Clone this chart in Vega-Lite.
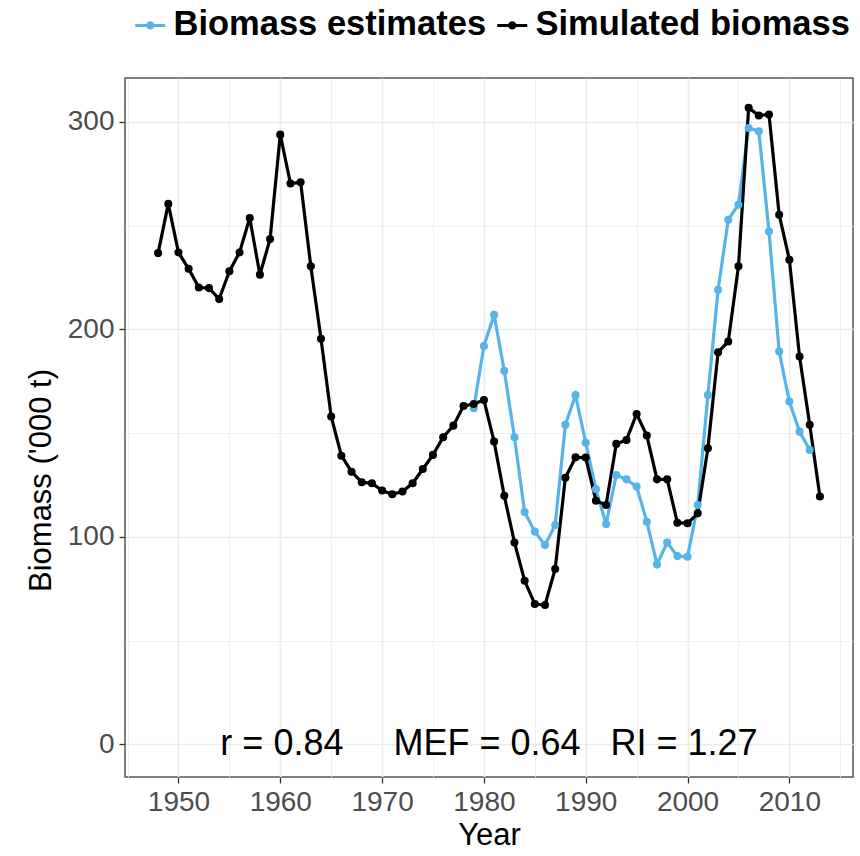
{
  "$schema": "https://vega.github.io/schema/vega-lite/v6.json",
  "width": 728,
  "height": 699,
  "autosize": "none",
  "padding": {"left": 125, "top": 78, "right": 7, "bottom": 79},
  "background": "white",
  "config": {
    "font": "Liberation Sans",
    "view": {"stroke": "#555555", "strokeWidth": 1.5}
  },
  "datasets": {
    "series": [
      {"year": 1979, "series": "Biomass estimates", "biomass": 162},
      {"year": 1980, "series": "Biomass estimates", "biomass": 192},
      {"year": 1981, "series": "Biomass estimates", "biomass": 207},
      {"year": 1982, "series": "Biomass estimates", "biomass": 180},
      {"year": 1983, "series": "Biomass estimates", "biomass": 148},
      {"year": 1984, "series": "Biomass estimates", "biomass": 112},
      {"year": 1985, "series": "Biomass estimates", "biomass": 102.5},
      {"year": 1986, "series": "Biomass estimates", "biomass": 96},
      {"year": 1987, "series": "Biomass estimates", "biomass": 105.7},
      {"year": 1988, "series": "Biomass estimates", "biomass": 154},
      {"year": 1989, "series": "Biomass estimates", "biomass": 168.3},
      {"year": 1990, "series": "Biomass estimates", "biomass": 145.3},
      {"year": 1991, "series": "Biomass estimates", "biomass": 122.9},
      {"year": 1992, "series": "Biomass estimates", "biomass": 106.2},
      {"year": 1993, "series": "Biomass estimates", "biomass": 129.8},
      {"year": 1994, "series": "Biomass estimates", "biomass": 127.7},
      {"year": 1995, "series": "Biomass estimates", "biomass": 124.2},
      {"year": 1996, "series": "Biomass estimates", "biomass": 107.3},
      {"year": 1997, "series": "Biomass estimates", "biomass": 86.7},
      {"year": 1998, "series": "Biomass estimates", "biomass": 97.2},
      {"year": 1999, "series": "Biomass estimates", "biomass": 90.7},
      {"year": 2000, "series": "Biomass estimates", "biomass": 90.4},
      {"year": 2001, "series": "Biomass estimates", "biomass": 115.3},
      {"year": 2002, "series": "Biomass estimates", "biomass": 168.4},
      {"year": 2003, "series": "Biomass estimates", "biomass": 219.1},
      {"year": 2004, "series": "Biomass estimates", "biomass": 252.9},
      {"year": 2005, "series": "Biomass estimates", "biomass": 260.1},
      {"year": 2006, "series": "Biomass estimates", "biomass": 297.1},
      {"year": 2007, "series": "Biomass estimates", "biomass": 295.5},
      {"year": 2008, "series": "Biomass estimates", "biomass": 247.2},
      {"year": 2009, "series": "Biomass estimates", "biomass": 189.3},
      {"year": 2010, "series": "Biomass estimates", "biomass": 165.2},
      {"year": 2011, "series": "Biomass estimates", "biomass": 150.7},
      {"year": 2012, "series": "Biomass estimates", "biomass": 141.9},
      {"year": 1948, "series": "Simulated biomass", "biomass": 236.8},
      {"year": 1949, "series": "Simulated biomass", "biomass": 260.5},
      {"year": 1950, "series": "Simulated biomass", "biomass": 237.1},
      {"year": 1951, "series": "Simulated biomass", "biomass": 229.2},
      {"year": 1952, "series": "Simulated biomass", "biomass": 220.2},
      {"year": 1953, "series": "Simulated biomass", "biomass": 219.9},
      {"year": 1954, "series": "Simulated biomass", "biomass": 214.6},
      {"year": 1955, "series": "Simulated biomass", "biomass": 228},
      {"year": 1956, "series": "Simulated biomass", "biomass": 237.1},
      {"year": 1957, "series": "Simulated biomass", "biomass": 253.7},
      {"year": 1958, "series": "Simulated biomass", "biomass": 226.4},
      {"year": 1959, "series": "Simulated biomass", "biomass": 243.6},
      {"year": 1960, "series": "Simulated biomass", "biomass": 293.9},
      {"year": 1961, "series": "Simulated biomass", "biomass": 270.3},
      {"year": 1962, "series": "Simulated biomass", "biomass": 270.9},
      {"year": 1963, "series": "Simulated biomass", "biomass": 230.4},
      {"year": 1964, "series": "Simulated biomass", "biomass": 195.5},
      {"year": 1965, "series": "Simulated biomass", "biomass": 158},
      {"year": 1966, "series": "Simulated biomass", "biomass": 139.1},
      {"year": 1967, "series": "Simulated biomass", "biomass": 131.4},
      {"year": 1968, "series": "Simulated biomass", "biomass": 126.3},
      {"year": 1969, "series": "Simulated biomass", "biomass": 125.8},
      {"year": 1970, "series": "Simulated biomass", "biomass": 122.3},
      {"year": 1971, "series": "Simulated biomass", "biomass": 120.5},
      {"year": 1972, "series": "Simulated biomass", "biomass": 121.8},
      {"year": 1973, "series": "Simulated biomass", "biomass": 125.8},
      {"year": 1974, "series": "Simulated biomass", "biomass": 132.7},
      {"year": 1975, "series": "Simulated biomass", "biomass": 139.5},
      {"year": 1976, "series": "Simulated biomass", "biomass": 148},
      {"year": 1977, "series": "Simulated biomass", "biomass": 153.6},
      {"year": 1978, "series": "Simulated biomass", "biomass": 163.1},
      {"year": 1979, "series": "Simulated biomass", "biomass": 164},
      {"year": 1980, "series": "Simulated biomass", "biomass": 166},
      {"year": 1981, "series": "Simulated biomass", "biomass": 145.9},
      {"year": 1982, "series": "Simulated biomass", "biomass": 119.8},
      {"year": 1983, "series": "Simulated biomass", "biomass": 97.3},
      {"year": 1984, "series": "Simulated biomass", "biomass": 78.8},
      {"year": 1985, "series": "Simulated biomass", "biomass": 67.6},
      {"year": 1986, "series": "Simulated biomass", "biomass": 67.1},
      {"year": 1987, "series": "Simulated biomass", "biomass": 84.5},
      {"year": 1988, "series": "Simulated biomass", "biomass": 128.5},
      {"year": 1989, "series": "Simulated biomass", "biomass": 138.3},
      {"year": 1990, "series": "Simulated biomass", "biomass": 138.2},
      {"year": 1991, "series": "Simulated biomass", "biomass": 117.4},
      {"year": 1992, "series": "Simulated biomass", "biomass": 115.3},
      {"year": 1993, "series": "Simulated biomass", "biomass": 144.8},
      {"year": 1994, "series": "Simulated biomass", "biomass": 146.7},
      {"year": 1995, "series": "Simulated biomass", "biomass": 159.2},
      {"year": 1996, "series": "Simulated biomass", "biomass": 148.8},
      {"year": 1997, "series": "Simulated biomass", "biomass": 127.7},
      {"year": 1998, "series": "Simulated biomass", "biomass": 127.7},
      {"year": 1999, "series": "Simulated biomass", "biomass": 106.8},
      {"year": 2000, "series": "Simulated biomass", "biomass": 106.5},
      {"year": 2001, "series": "Simulated biomass", "biomass": 111.3},
      {"year": 2002, "series": "Simulated biomass", "biomass": 142.7},
      {"year": 2003, "series": "Simulated biomass", "biomass": 189},
      {"year": 2004, "series": "Simulated biomass", "biomass": 194.2},
      {"year": 2005, "series": "Simulated biomass", "biomass": 230.4},
      {"year": 2006, "series": "Simulated biomass", "biomass": 306.8},
      {"year": 2007, "series": "Simulated biomass", "biomass": 303.1},
      {"year": 2008, "series": "Simulated biomass", "biomass": 303.6},
      {"year": 2009, "series": "Simulated biomass", "biomass": 255.3},
      {"year": 2010, "series": "Simulated biomass", "biomass": 233.6},
      {"year": 2011, "series": "Simulated biomass", "biomass": 186.9},
      {"year": 2012, "series": "Simulated biomass", "biomass": 154},
      {"year": 2013, "series": "Simulated biomass", "biomass": 119.4}
    ],
    "note": [
      {"year": 1980.5, "biomass": 0, "label": "r = 0.84\u00a0\u00a0\u00a0\u00a0 MEF = 0.64\u00a0\u00a0 RI = 1.27"}
    ]
  },
  "layer": [
    {
      "data": {"name": "series"},
      "mark": {"type": "line", "strokeWidth": 3.2, "point": {"filled": true, "size": 65}},
      "encoding": {
        "x": {
          "field": "year", "type": "quantitative",
          "scale": {"domain": [1944.75, 2016.25], "nice": false, "zero": false},
          "axis": {
            "title": "Year",
            "values": [1945, 1950, 1955, 1960, 1965, 1970, 1975, 1980, 1985, 1990, 1995, 2000, 2005, 2010, 2015],
            "labelExpr": "datum.value % 10 === 0 ? '' + datum.value : ''",
            "labelOverlap": false,
            "labelFlush": false,
            "domain": false,
            "grid": true,
            "gridColor": "#ebebeb",
            "gridWidth": {"condition": {"test": "datum.value % 10 === 0", "value": 1.6}, "value": 0.8},
            "tickColor": "#333333",
            "tickSize": 6,
            "tickWidth": 1.3,
            "tickOpacity": {"condition": {"test": "datum.value % 10 === 0", "value": 1}, "value": 0},
            "labelFontSize": 28,
            "labelColor": "#4d4d4d",
            "labelPadding": 5,
            "titleFontSize": 31,
            "titleFontWeight": "normal",
            "titleColor": "#000000",
            "titlePadding": 4
          }
        },
        "y": {
          "field": "biomass", "type": "quantitative",
          "scale": {"domain": [-15.8, 321.2], "nice": false, "zero": false},
          "axis": {
            "title": "Biomass ('000 t)",
            "values": [0, 50, 100, 150, 200, 250, 300],
            "labelExpr": "datum.value % 100 === 0 ? '' + datum.value : ''",
            "labelOverlap": false,
            "labelFlush": false,
            "domain": false,
            "grid": true,
            "gridColor": "#ebebeb",
            "gridWidth": {"condition": {"test": "datum.value % 100 === 0", "value": 1.6}, "value": 0.8},
            "tickColor": "#333333",
            "tickSize": 6,
            "tickWidth": 1.3,
            "tickOpacity": {"condition": {"test": "datum.value % 100 === 0", "value": 1}, "value": 0},
            "labelFontSize": 28,
            "labelColor": "#4d4d4d",
            "labelPadding": 5,
            "titleFontSize": 31,
            "titleFontWeight": "normal",
            "titleColor": "#000000",
            "titlePadding": 10,
            "titleY": 402
          }
        },
        "color": {
          "field": "series", "type": "nominal",
          "scale": {"domain": ["Biomass estimates", "Simulated biomass"], "range": ["#56B4E9", "#000000"]},
          "legend": {
            "title": null,
            "orient": "none",
            "direction": "horizontal",
            "legendX": 8,
            "legendY": -70,
            "symbolType": "M-1,0H1M-0.18,0A0.18,0.18,0,1,1,0.18,0A0.18,0.18,0,1,1,-0.18,0",
            "symbolSize": 900,
            "symbolStrokeWidth": 3,
            "labelFontSize": 34.5,
            "labelFontWeight": "bold",
            "labelColor": "#000000",
            "labelOffset": 6,
            "columnPadding": 4,
            "labelLimit": 500
          }
        }
      }
    },
    {
      "data": {"name": "note"},
      "mark": {"type": "text", "fontSize": 36, "color": "#000000", "align": "center", "baseline": "middle"},
      "encoding": {
        "x": {"field": "year", "type": "quantitative"},
        "y": {"field": "biomass", "type": "quantitative"},
        "text": {"field": "label"}
      }
    }
  ]
}
